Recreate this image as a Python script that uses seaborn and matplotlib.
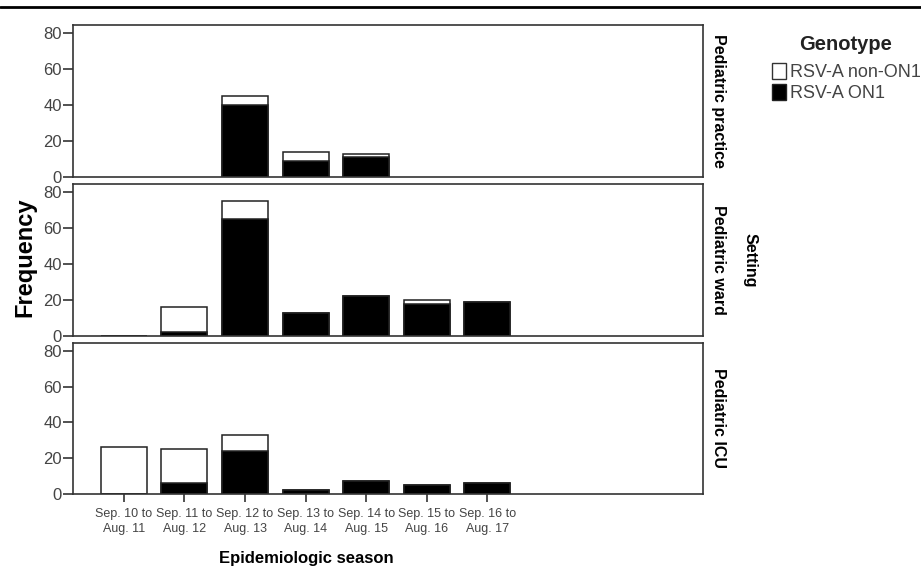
import numpy as np
import pandas as pd
import matplotlib
matplotlib.use("Agg")
import matplotlib.pyplot as plt
import seaborn as sns
from matplotlib.lines import Line2D
from matplotlib.patches import Patch

sns.set_theme(style="white")
plt.rcParams['font.family'] = ['Liberation Sans', 'DejaVu Sans']

# data
seasons = ["Sep. 10 to\nAug. 11", "Sep. 11 to\nAug. 12", "Sep. 12 to\nAug. 13",
           "Sep. 13 to\nAug. 14", "Sep. 14 to\nAug. 15", "Sep. 15 to\nAug. 16",
           "Sep. 16 to\nAug. 17"]
settings = ["Pediatric practice", "Pediatric ward", "Pediatric ICU"]
genotypes = ["RSV-A non-ON1", "RSV-A ON1"]

nan = np.nan
practice_total = [nan, nan, 45, 14, 13, nan, nan]
practice_on1 = [nan, nan, 40, 9, 11, nan, nan]
ward_total = [0, 16, 75, 13, 22, 20, 19]
ward_on1 = [0, 2, 65, 13, 22, 18, 19]
icu_total = [26, 25, 33, 2, 7, 5, 6]
icu_on1 = [0, 6, 24, 2, 7, 5, 6]

yticks = [0, 20, 40, 60, 80]

rows = []
for setting, tot, on1 in zip(settings, [practice_total, ward_total, icu_total],
                             [practice_on1, ward_on1, icu_on1]):
    for s, t, o in zip(seasons, tot, on1):
        rows.append({"season": s, "setting": setting, "total": t, "on1": o})
df = pd.DataFrame(rows)

W, H = 921, 571
fig = plt.figure(figsize=(W / 100, H / 100), dpi=100)

# panel pixel boxes (top, bottom)
panel_px = [(25, 177), (184, 336), (343, 494)]
left_px, right_px = 73, 703
edge = "#333333"
tick_col = "#444444"

for i, (setting, (top, bot)) in enumerate(zip(settings, panel_px)):
    ax = fig.add_axes([left_px / W, 1 - bot / H, (right_px - left_px) / W, (bot - top) / H])
    sub = df[df["setting"] == setting]
    sns.barplot(data=sub, x="season", y="total", order=seasons, color="white",
                edgecolor="#222222", linewidth=1.1, width=0.76, saturation=1,
                errorbar=None, ax=ax)
    sns.barplot(data=sub, x="season", y="on1", order=seasons, color="black",
                edgecolor="#222222", linewidth=1.1, width=0.76, saturation=1,
                errorbar=None, ax=ax)
    ax.set_xlim(-0.84, 9.56)
    ax.set_ylim(0, 84.4)
    ax.set_yticks(yticks)
    ax.set_xlabel("")
    ax.set_ylabel("")
    for sp in ax.spines.values():
        sp.set_visible(True)
        sp.set_color(edge)
        sp.set_linewidth(1.2)
    ax.tick_params(axis="y", which="both", left=True, direction="out", length=7,
                   width=1.2, color=edge, labelsize=12, labelcolor=tick_col, pad=1)
    if i < 2:
        ax.tick_params(axis="x", bottom=False, labelbottom=False)
    else:
        ax.tick_params(axis="x", bottom=True, direction="out", length=6, width=1.2,
                       color=edge, pad=4)
        ax.set_xticks(range(len(seasons)))
        ax.set_xticklabels(seasons, fontsize=9, color=tick_col, linespacing=1.3)
    cy = 1 - (top + bot) / 2 / H
    fig.text(718 / W, cy, setting, rotation=270, ha="center", va="center",
             fontsize=11.5, fontweight="bold", color="black")

fig.text(25 / W, 1 - 257 / H, "Frequency", rotation=90, ha="center", va="center",
         fontsize=17, fontweight="bold", color="black")
fig.text(306 / W, 1 - 559 / H, "Epidemiologic season", ha="center", va="center",
         fontsize=12, fontweight="bold", color="black")
fig.text(750 / W, 1 - 260 / H, "Setting", rotation=270, ha="center", va="center",
         fontsize=11.5, fontweight="bold", color="black")
fig.text(846 / W, 1 - 45 / H, "Genotype", ha="center", va="center",
         fontsize=14.5, fontweight="bold", color="#222222")

handles = [Patch(facecolor="white", edgecolor="#333333", linewidth=1),
           Patch(facecolor="black", edgecolor="#222222", linewidth=1)]
fig.legend(handles, genotypes, loc="upper left", bbox_to_anchor=(772 / W, 1 - 63 / H),
           frameon=False, fontsize=13, labelcolor=tick_col, handlelength=0.8,
           handleheight=1.0, handletextpad=0.2, labelspacing=0.15, borderpad=0,
           borderaxespad=0)

# thin rule across the top of the image
fig.add_artist(Line2D([0, 1], [1 - 7 / H, 1 - 7 / H], transform=fig.transFigure,
                      color="black", linewidth=2))

fig.savefig("out.png", dpi=100)
